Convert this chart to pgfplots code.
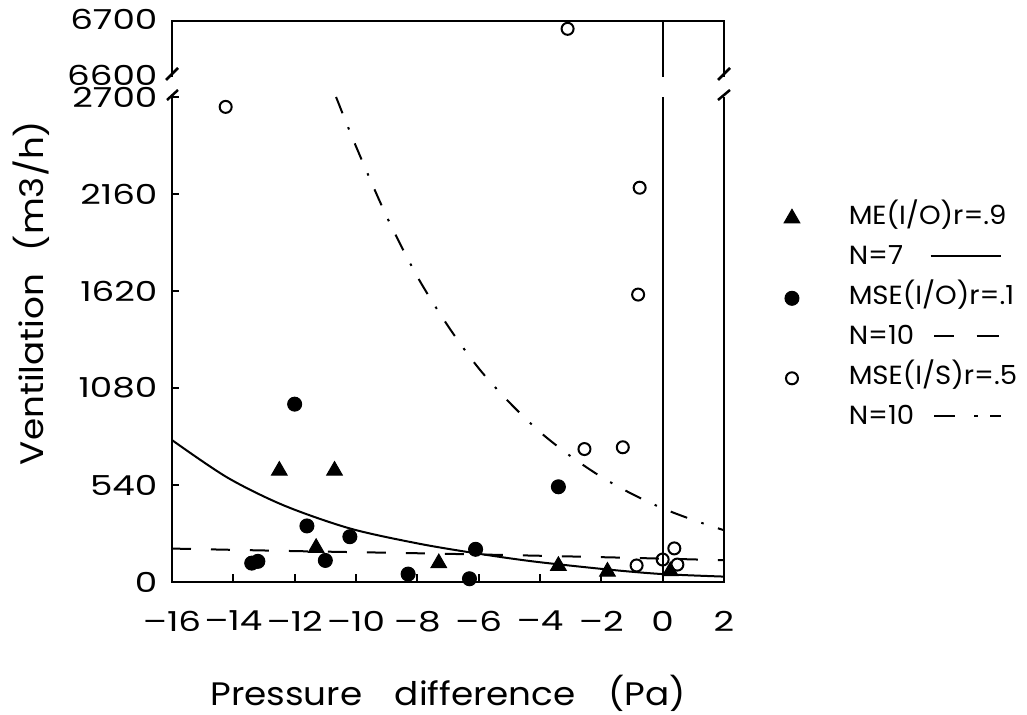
\documentclass[border=0pt]{standalone}
\usepackage{fontspec}
\setmainfont{Poppins}
\newfontfamily\tickfont{Poppins}[FakeStretch=1.3, Ligatures=TeX]
\newfontfamily\legfont{Poppins}[FakeStretch=1.05, Ligatures=TeX]
\newfontfamily\labfont{Poppins}[FakeStretch=1.1, Ligatures=TeX]
\usepackage{pgfplots}
\pgfplotsset{compat=1.18}

\begin{document}
\begin{tikzpicture}
\useasboundingbox (0,0) rectangle (410.8pt,286pt);
\pgfplotsset{
  brk/.style={scale only axis, width=220.8pt, xmin=-16, xmax=2,
    axis line style={draw=none}, clip=false,
    tick align=inside, major tick length=3pt,
    tick style={black, line width=0.9pt},
    xtick pos=bottom, ytick pos=left,
    /pgf/number format/assume math mode=true,
    tick label style={font=\tickfont\fontsize{11}{13}\selectfont},
    yticklabel style={xshift=-2.3pt},
    xticklabel style={yshift=-8pt}},
}
% lower panel, 0 .. 2700
\begin{axis}[brk, name=low, at={(68.8pt,53.2pt)}, anchor=south west,
  height=194pt, ymin=0, ymax=2700,
  xtick={-16,-14,...,2},
  xticklabels={\textendash16,\textendash14,\textendash12,\textendash10,\textendash8,\textendash6,\textendash4,\textendash2,0,2},
  ytick={0,540,1080,1620,2160,2700}, yticklabels={0,540,1080,1620,2160,2700},
  legend style={draw=none, fill=none, at={(axis description cs:1.07,0.787)},
    anchor=north west, font=\legfont\fontsize{10.5}{12}\selectfont,
    row sep=6pt, column sep=19.6pt,
    nodes={inner sep=0pt, text height=0.75em, text depth=0.25em}},
  legend cell align=left]
\draw[line width=0.8pt] (axis cs:0,0) -- (axis cs:0,2700);
\addplot[only marks, mark=triangle*, mark size=3.6pt, black] coordinates {
 (-12.5,620) (-10.7,620) (-11.3,190) (-7.3,105) (-3.4,90) (-1.8,58) (0.25,60)};
\addlegendentry{ME(I/O)r=.9}
\addlegendimage{empty legend}
\addlegendentry{N=7\hspace{11pt}\rule[0.3em]{28pt}{0.8pt}}
\addplot[only marks, mark=*, mark size=2.8pt, black] coordinates {
 (-12.0,990) (-11.6,312) (-10.2,252) (-11.0,120) (-13.4,105) (-13.2,115)
 (-8.3,44) (-6.1,182) (-6.3,18) (-3.4,530)};
\addlegendentry{MSE(I/O)r=.1}
\addlegendimage{empty legend}
\addlegendentry{N=10\hspace{8pt}\rule[0.3em]{8pt}{0.8pt}\hspace{9pt}\rule[0.3em]{9pt}{0.8pt}}
\addplot[only marks, mark=o, mark size=2.4pt, black, line width=0.8pt] coordinates {
 (-14.25,2645) (-0.75,2195) (-0.8,1600) (-2.55,740) (-1.3,750)
 (-0.85,92) (0.0,125) (0.38,187) (0.48,97)};
\addlegendentry{MSE(I/S)r=.5}
\addlegendimage{empty legend}
\addlegendentry{N=10\hspace{8pt}\rule[0.3em]{8.4pt}{0.8pt}\hspace{7.6pt}\rule[0.3em]{1.4pt}{0.8pt}\hspace{5pt}\rule[0.3em]{4.5pt}{0.8pt}}
% fitted curves
\addplot[black, line width=0.8pt, smooth, forget plot] coordinates {
 (-16,790) (-14.2,582) (-12.35,426) (-10.2,298) (-8,215) (-6.1,160)
 (-4.2,114) (-1.7,68) (0,44) (2,30)};
\addplot[black, line width=0.8pt, dash pattern=on 7.6pt off 8pt, smooth, forget plot] coordinates {
 (-16,186) (-12,172) (-8,160) (-4,146) (0,130) (2,121)};
\addplot[black, line width=0.8pt, dash pattern=on 7pt off 6pt on 1pt off 6pt, smooth, forget plot] coordinates {
 (-10.65,2700) (-10,2425) (-9,2035) (-8,1700) (-7,1425) (-6,1190) (-5,1000)
 (-4,835) (-3,700) (-2,585) (-1,490) (0,410) (1,345) (2,288)};
\end{axis}
% upper panel, 6600 .. 6700
\begin{axis}[brk, name=up, at={(68.8pt,255.2pt)}, anchor=south west,
  height=22.4pt, ymin=6600, ymax=6700,
  xtick=\empty, ytick={6600,6700}, yticklabels={6600,6700},
  yticklabel style={yshift=0.8pt},
  ytick style={draw=none}]
\draw[line width=0.8pt] (axis cs:0,6600) -- (axis cs:0,6700);
\addplot[only marks, mark=o, mark size=2.4pt, black, line width=0.8pt] coordinates {(-3.1,6686)};
\end{axis}
% frames
\draw[line width=1pt] (low.north west) -- (low.south west) -- (low.south east) -- (low.north east);
\draw[line width=1pt] (up.south west) -- (up.north west) -- (up.north east) -- (up.south east);
% break marks
\draw[line width=1pt] (66.4pt,254pt) -- (71.2pt,258.8pt);
\draw[line width=1pt] (66.8pt,246pt) -- (71.2pt,250pt);
\draw[line width=1pt] (287.2pt,254pt) -- (292pt,258.8pt);
\draw[line width=1pt] (287.2pt,246pt) -- (292pt,250pt);
% axis titles
\node[font=\labfont\fontsize{13}{15}\selectfont] at (179.2pt,8.8pt)
  {Pressure\hspace{13pt}difference\hspace{13pt}(Pa)};
\node[font=\labfont\fontsize{13}{15}\selectfont, rotate=90] at (12.4pt,168.8pt)
  {Ventilation\hspace{9pt}(m3/h)};
\end{tikzpicture}
\end{document}
